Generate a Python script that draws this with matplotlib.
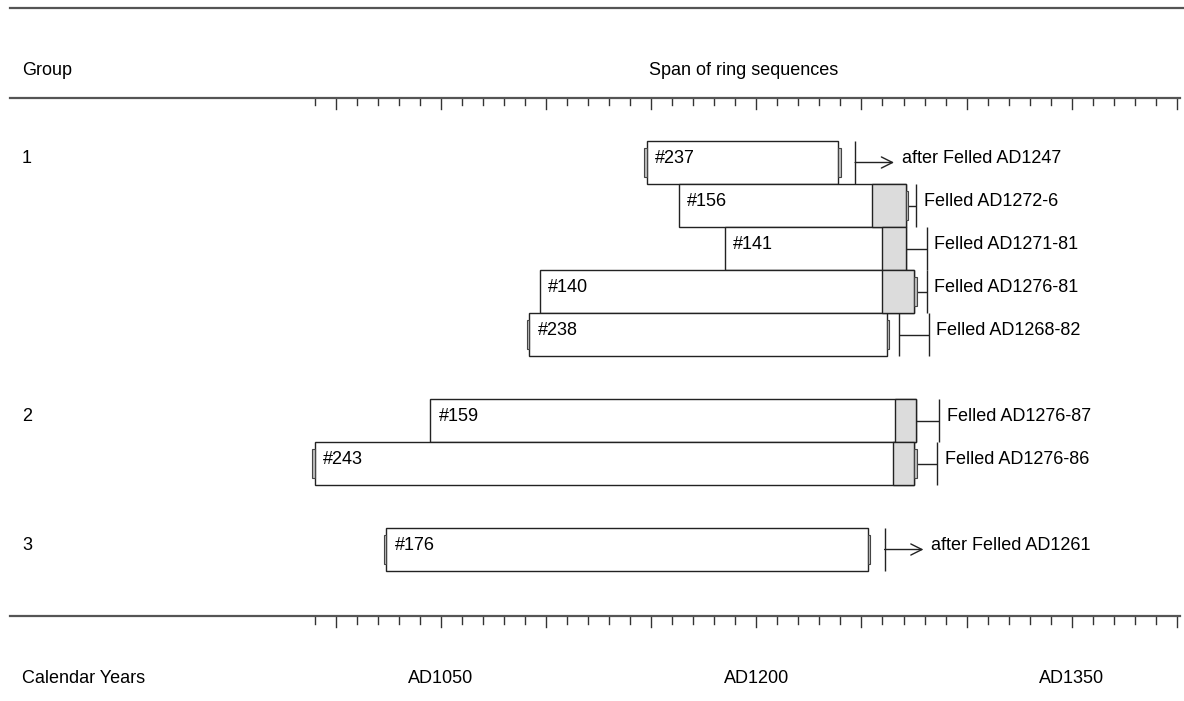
import matplotlib
matplotlib.use("Agg")
import matplotlib.pyplot as plt
from matplotlib import font_manager as fm
from matplotlib.font_manager import FontProperties

# look for a narrow sans like the original; otherwise Liberation Sans a bit smaller
narrow = [f.fname for f in fm.fontManager.ttflist
          if "LiberationSansNarrow-Regular" in f.fname.replace(" ", "")]
if narrow:
    FP = FontProperties(fname=narrow[0], size=15.2)
else:
    FP = FontProperties(family=["Liberation Sans", "DejaVu Sans"], size=13)

# ---- data (calendar years) ----
samples = ["#237", "#156", "#141", "#140", "#238", "#159", "#243", "#176"]
groups = [1, 1, 1, 1, 1, 2, 2, 3]
rows = [0, 1, 2, 3, 4, 6, 7, 9]
first_ring = [1148, 1163, 1185, 1097, 1092, 1045, 990, 1024]
sapwood_start = [None, 1255, 1260, 1260, None, 1266, 1265, None]
last_ring = [1239, 1271, 1271, 1275, 1262, 1276, 1275, 1253]
start_marker = [True, False, False, False, True, False, True, True]
end_marker = [True, True, False, True, True, False, True, True]
felled_from = [1247, 1272, 1271, 1276, 1268, 1276, 1276, 1261]
felled_to = [None, 1276, 1281, 1281, 1282, 1287, 1286, None]
felled_labels = ["after Felled AD1247", "Felled AD1272-6", "Felled AD1271-81",
                 "Felled AD1276-81", "Felled AD1268-82", "Felled AD1276-87",
                 "Felled AD1276-86", "after Felled AD1261"]
year_ticks = list(range(990, 1401, 10))
year_labels = [1050, 1200, 1350]

W, H = 1184, 701
LINE = "#555555"
EDGE = "#222222"


def fy(px):
    # pixel row (from top) -> axes fraction; axes fills the figure
    return 1 - px / H


fig = plt.figure(figsize=(W / 100, H / 100), dpi=100)
ax = fig.add_axes([0, 0, 1, 1])
ax.axis("off")
ax.set_xlim(840.3, 1403.4)
ax.set_ylim(12.523, -3.779)
xt = ax.get_xaxis_transform()

# frame lines and the two year scales
fig.add_artist(plt.Line2D([10 / W, 1], [fy(8), fy(8)], color=LINE, lw=1.6))
for py in (97.5, 616):
    fig.add_artist(plt.Line2D([10 / W, 1180 / W], [fy(py), fy(py)], color=LINE, lw=1.6))
    for yr in year_ticks:
        ln = 11 if yr % 50 == 0 else 7.5
        ax.plot([yr, yr], [fy(py), fy(py + ln)], transform=xt, color="#333333", lw=1.0)

# headers
fig.text(22 / W, fy(75), "Group", fontproperties=FP, va="baseline", ha="left")
fig.text(744 / W, fy(75), "Span of ring sequences", fontproperties=FP, va="baseline", ha="center")
fig.text(22 / W, fy(683), "Calendar Years", fontproperties=FP, va="baseline", ha="left")
for yr in year_labels:
    ax.text(yr, fy(683), "AD%d" % yr, transform=xt, fontproperties=FP, va="baseline", ha="center")

# group number on the first row of each group
seen = set()
for g, r in zip(groups, rows):
    if g not in seen:
        seen.add(g)
        ax.annotate(str(g), xy=(22 / W, r), xycoords=("axes fraction", "data"),
                    fontproperties=FP, va="baseline", ha="left")

mk_w = 1.3
mk_h = 29 / 43
for i, name in enumerate(samples):
    r = rows[i]
    a, b = first_ring[i], last_ring[i]
    ax.barh(r, b - a, left=a, height=1, color="white", edgecolor=EDGE, lw=1.0, zorder=2)
    if sapwood_start[i] is not None:
        s = sapwood_start[i]
        ax.barh(r, b - s, left=s, height=1, color="#dcdcdc", edgecolor=EDGE, lw=1.0, zorder=3)
    if start_marker[i]:
        ax.barh(r, mk_w, left=a - mk_w, height=mk_h, color="#bdbdbd", edgecolor="#444444", lw=0.8, zorder=4)
    if end_marker[i]:
        ax.barh(r, mk_w, left=b, height=mk_h, color="#bdbdbd", edgecolor="#444444", lw=0.8, zorder=4)
    ax.annotate(name, xy=(a, r), xytext=(6, 0), textcoords="offset points",
                fontproperties=FP, va="baseline", ha="left", zorder=5)

    f0, f1 = felled_from[i], felled_to[i]
    if f1 is None:
        tip = f0 + 18.5
        ax.vlines(f0, r - 0.5, r + 0.5, color=EDGE, lw=1.0)
        ax.annotate("", xy=(tip, r), xytext=(f0, r),
                    arrowprops=dict(arrowstyle="->", color=EDGE, lw=1.0, mutation_scale=20,
                                    shrinkA=0, shrinkB=0))
        lx = tip
    else:
        ax.vlines(f1, r - 0.5, r + 0.5, color=EDGE, lw=1.0)
        if f0 - b > 2:
            ax.vlines(f0, r - 0.5, r + 0.5, color=EDGE, lw=1.0)
        ax.hlines(r, f0, f1, color=EDGE, lw=1.0)
        lx = f1
    ax.annotate(felled_labels[i], xy=(lx, r), xytext=(5.5, 0), textcoords="offset points",
                fontproperties=FP, va="baseline", ha="left")

fig.savefig("out.png", dpi=100)
